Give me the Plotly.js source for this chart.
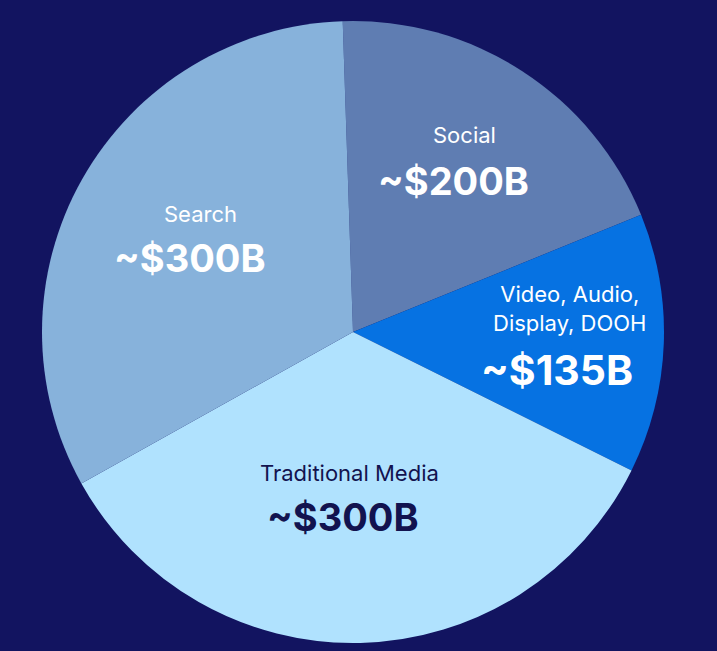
<!DOCTYPE html>
<html>
<head>
<meta charset="utf-8">
<script src="https://cdn.plot.ly/plotly-3.0.1.min.js"></script>
<style>
html,body{margin:0;padding:0;background:#121460;}
#chart{width:717px;height:651px;}
</style>
</head>
<body>
<div id="chart"></div>
<script>
// Data
const categories = ["Social", "Video, Audio, Display, DOOH", "Traditional Media", "Search"];
const sliceValues = [194, 135, 346, 326];   // slice sizes
const valueLabels = ["~$200B", "~$135B", "~$300B", "~$300B"];
const nameLabels = ["Social", "Video, Audio,<br>Display, DOOH", "Traditional Media", "Search"];

// Styles
const colors = ["#5f7db2", "#0672e2", "#b0e2fe", "#87b2db"];
const textColors = ["#ffffff", "#ffffff", "#12134f", "#ffffff"];
const valueSizes = [38, 41, 38, 38];
const W = 717, H = 651;
// label anchor points (pixels) [nameX, nameY, valueX, valueY]
const labelPos = [
  [464, 135, 453, 181],
  [569, 308, 557, 370],
  [349, 473, 343, 517],
  [200, 214, 190, 258]
];

const annotations = [];
categories.forEach((c, i) => {
  const p = labelPos[i];
  annotations.push({
    xref: "paper", yref: "paper", x: p[0] / W, y: 1 - p[1] / H,
    xanchor: "center", yanchor: "middle", showarrow: false,
    text: nameLabels[i],
    font: {family: "Inter, 'Noto Sans', sans-serif", size: 22, color: textColors[i]}
  });
  annotations.push({
    xref: "paper", yref: "paper", x: p[2] / W, y: 1 - p[3] / H,
    xanchor: "center", yanchor: "middle", showarrow: false,
    text: "<b>" + valueLabels[i] + "</b>",
    font: {family: "Inter, 'Noto Sans', sans-serif", size: valueSizes[i], color: textColors[i]}
  });
});

const trace = {
  type: "pie",
  labels: categories,
  values: sliceValues,
  sort: false,
  direction: "clockwise",
  rotation: -1.9,
  marker: {colors: colors, line: {width: 0}},
  textinfo: "none",
  hoverinfo: "label+value",
  domain: {x: [42 / W, 664 / W], y: [8 / H, 630 / H]}
};

const layout = {
  width: W, height: H,
  margin: {l: 0, r: 0, t: 0, b: 0},
  paper_bgcolor: "#121460",
  plot_bgcolor: "#121460",
  showlegend: false,
  annotations: annotations
};

Plotly.newPlot("chart", [trace], layout, {displayModeBar: false, staticPlot: true});
</script>
</body>
</html>
